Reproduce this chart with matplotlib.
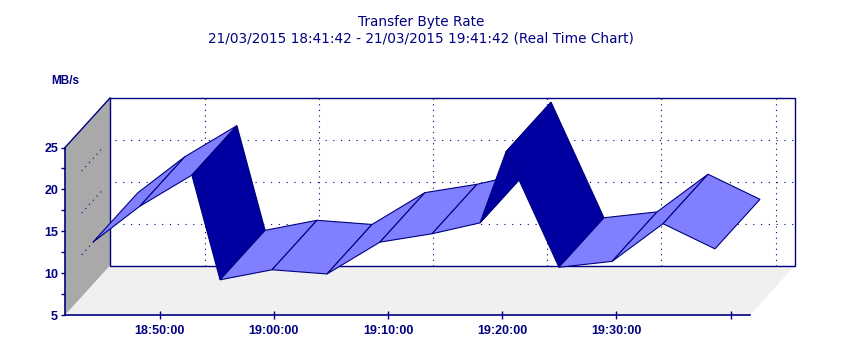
import datetime as dt

import numpy as np
import matplotlib
matplotlib.use("Agg")
import matplotlib.pyplot as plt
import matplotlib.dates as mdates
from matplotlib.patches import Polygon

# ---- data ------------------------------------------------------------------
DAY = "2015-03-21"
start_time = "18:41:42"
end_time = "19:41:42"
sample_times = ["18:44:09", "18:48:16", "18:52:49", "18:55:17", "18:59:50",
                "19:04:39", "19:09:17", "19:13:51", "19:18:03", "19:20:20",
                "19:24:58", "19:29:37", "19:34:05", "19:38:38"]
rates = [13.7, 18.0, 21.7, 9.2, 10.4, 9.9, 13.7, 14.7, 16.0, 24.5,
         10.7, 11.4, 15.9, 12.9]
tick_times = ["18:50:00", "19:00:00", "19:10:00", "19:20:00", "19:30:00", "19:40:00"]
tick_labels = ["18:50:00", "19:00:00", "19:10:00", "19:20:00", "19:30:00", ""]
y_ticks = [5, 10, 15, 20, 25]
y_minor = [7.5, 12.5, 17.5, 22.5]
y_grid = [10, 15, 20]
y_min, y_max = 5, 25

title = "Transfer Byte Rate"
subtitle = "21/03/2015 18:41:42 - 21/03/2015 19:41:42 (Real Time Chart)"
unit_label = "MB/s"

# ---- style -------------------------------------------------------------------
NAVY = "#000080"
LIGHT = "#8080ff"
DARK = "#0000a0"
WALL = "#a9a9a9"
FLOOR = "#f0f0f0"
W, H = 842, 359
DEPTH_PX = (45, 49.5)          # screen offset of the back plane


def tnum(s):
    return mdates.date2num(dt.datetime.strptime(DAY + " " + s, "%Y-%m-%d %H:%M:%S"))


t = np.array([tnum(s) for s in sample_times])
v = np.array(rates, dtype=float)
x0, x1 = tnum(start_time), tnum(end_time)

fig = plt.figure(figsize=(W / 100, H / 100), dpi=100)
ax = fig.add_axes([65 / W, (H - 315) / H, 685 / W, 167.5 / H])
ax.set_xlim(x0, x1)
ax.set_ylim(y_min, y_max)
ax.patch.set_visible(False)

# depth offset in data units
ddx = DEPTH_PX[0] / 685 * (x1 - x0)
ddy = DEPTH_PX[1] / 167.5 * (y_max - y_min)

kw = dict(clip_on=False)

# floor
ax.add_patch(Polygon([(x0, y_min), (x1, y_min), (x1 + ddx, y_min + ddy), (x0 + ddx, y_min + ddy)],
                     closed=True, fc=FLOOR, ec="none", zorder=0, **kw))
# left wall
ax.add_patch(Polygon([(x0, y_min), (x0, y_max), (x0 + ddx, y_max + ddy), (x0 + ddx, y_min + ddy)],
                     closed=True, fc=WALL, ec="none", zorder=0, **kw))
ax.plot([x0, x0 + ddx], [y_max, y_max + ddy], color=NAVY, lw=1, zorder=1, **kw)
# back wall
ax.add_patch(Polygon([(x0 + ddx, y_min + ddy), (x1 + ddx, y_min + ddy),
                      (x1 + ddx, y_max + ddy), (x0 + ddx, y_max + ddy)],
                     closed=True, fc="white", ec=NAVY, lw=1, zorder=0.5, **kw))

dots = (0, (1, 6))
gx0 = x0 + ddx * 1.1
for g in y_grid:
    ax.plot([gx0, x1 + ddx], [g + ddy, g + ddy], color=NAVY, lw=0.8, ls=dots, zorder=1, **kw)
    ax.plot([x0 + 0.37 * ddx, x0 + 0.82 * ddx], [g + 0.37 * ddy, g + 0.82 * ddy],
            color=NAVY, lw=0.8, ls=(0, (1, 4)), zorder=1, **kw)
for s in tick_times:
    xt = tnum(s) + ddx
    ax.plot([xt, xt], [y_min + ddy, y_max + ddy], color=NAVY, lw=0.8, ls=(0, (1, 4)),
            zorder=1, **kw)

# ribbon: one parallelogram per segment, drawn left to right
disp = ax.transData.transform(np.column_stack([t, v]))
for i in range(len(t) - 1):
    f0, f1 = (t[i], v[i]), (t[i + 1], v[i + 1])
    b0, b1 = (t[i] + ddx, v[i] + ddy), (t[i + 1] + ddx, v[i + 1] + ddy)
    dxp, dyp = disp[i + 1] - disp[i]
    steep = abs(dyp) > 1.5 * abs(dxp)
    ax.add_patch(Polygon([f0, f1, b1, b0], closed=True, fc=DARK if steep else LIGHT,
                         ec=NAVY, lw=0.8, joinstyle="miter", zorder=2 + i * 0.01, **kw))

# axes
for side in ("top", "right"):
    ax.spines[side].set_visible(False)
for side in ("left", "bottom"):
    ax.spines[side].set_color(NAVY)
    ax.spines[side].set_linewidth(1.2)
    ax.spines[side].set_zorder(3)

ax.set_yticks(y_ticks)
ax.set_yticks(y_minor, minor=True)
ax.set_xticks([tnum(s) for s in tick_times])
ax.set_xticklabels(tick_labels)
ax.tick_params(axis="y", which="both", direction="out", length=3, width=1, color=NAVY,
               labelcolor=NAVY, pad=2)
ax.tick_params(axis="x", direction="inout", length=6, width=1, color=NAVY,
               labelcolor=NAVY, pad=4)
for lab in ax.get_xticklabels() + ax.get_yticklabels():
    lab.set_fontfamily("Liberation Sans")
    lab.set_fontweight("bold")
    lab.set_fontsize(9)

fig.text(421 / W, 1 - 22 / H, title, ha="center", va="center", color=NAVY,
         fontsize=9.8, family="DejaVu Sans")
fig.text(421 / W, 1 - 38.5 / H, subtitle, ha="center", va="center", color=NAVY,
         fontsize=9.8, family="DejaVu Sans")
fig.text(65 / W, 1 - 81 / H, unit_label, ha="center", va="center", color=NAVY,
         fontsize=8.5, fontweight="bold", family="Liberation Sans")

fig.savefig("out.png", dpi=100)
